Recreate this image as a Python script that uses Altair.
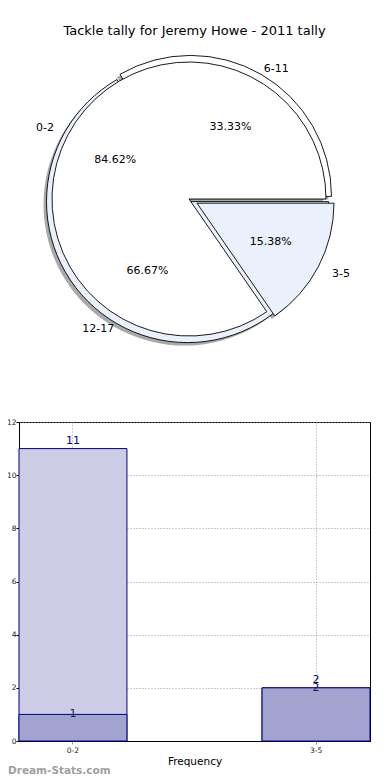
import math
import altair as alt
import pandas as pd

# ---------------- data ----------------
TITLE = "Tackle tally for Jeremy Howe - 2011 tally"
pie1_cats = ["0-2", "3-5"]
pie1_vals = [11, 2]
pie1_pct = ["84.62%", "15.38%"]
pie1_explode = [0, 9]

pie2_cats = ["6-11", "12-17"]
pie2_vals = [1, 2]
pie2_pct = ["33.33%", "66.67%"]
pie2_explode = [3, 3]

bar_cats = ["0-2", "3-5"]
bar_total = [11, 2]
bar_part = [1, 2]
y_ticks = [0, 2, 4, 6, 8, 10, 12]
WATERMARK = "Dream-Stats.com"

# ---------------- style / layout ----------------
FONT = "DejaVu Sans"
W = 351
PIE_H = 363
BAR_H = 319
CX, CY = 170, 155
R = 137
RX, RY = 141, 131          # label placement follows the squashed original
SLICE_FILL = ["#ffffff", "#eaf0fc"]
LIGHT = "#ccccE5"
DARK = "#a3a3d0"
NAVY = "#000080"

THETA_SCALE = alt.Scale(range=[math.pi / 2, math.pi / 2 + 2 * math.pi])


def ell(phi, k):
    return 1.0 / math.sqrt((math.cos(phi) / (k * RX)) ** 2 + (math.sin(phi) / (k * RY)) ** 2)


def pie_frame(cats, vals, pct, explode):
    total = sum(vals)
    rows = []
    cum = 0
    for i, (c, v, p, e) in enumerate(zip(cats, vals, pct, explode)):
        mid = 2 * math.pi * (cum + v / 2) / total
        cum += v
        rows.append({"cat": c, "value": v, "pct": p, "order": len(cats) - i,
                     "fill": SLICE_FILL[i % len(SLICE_FILL)],
                     "cos": math.cos(mid), "mid": mid,
                     "dx": e * math.cos(mid), "dy": -e * math.sin(mid)})
    return pd.DataFrame(rows)


def pie_layers(cats, vals, pct, explode, radius):
    df = pie_frame(cats, vals, pct, explode)
    base = alt.Chart(df)
    theta = alt.Theta("value:Q", stack=True, scale=THETA_SCALE)
    order = alt.Order("order:Q")
    shadows, slices, labels = [], [], []
    for _, row in df.iterrows():
        cond = alt.datum.cat == row["cat"]
        show = alt.condition(cond, alt.value(1), alt.value(0))
        shadows.append(base.mark_arc(radius=radius, fill="#404040").encode(
            theta=theta, order=order,
            x=alt.value(CX + row["dx"] - 3), y=alt.value(CY + row["dy"] + 3),
            opacity=alt.condition(cond, alt.value(0.45), alt.value(0))))
        slices.append(base.mark_arc(radius=radius, stroke="black", strokeWidth=0.9).encode(
            theta=theta, order=order,
            fill=alt.Fill("fill:N", scale=None),
            x=alt.value(CX + row["dx"]), y=alt.value(CY + row["dy"]),
            fillOpacity=show, strokeOpacity=show))
        labels.append(base.mark_text(
            radius=ell(row["mid"], 1.1), font=FONT, fontSize=11, color="black",
            align="left" if row["cos"] > 0 else "right", baseline="middle").encode(
            theta=theta, order=order, text="cat:N",
            x=alt.value(CX + row["dx"]), y=alt.value(CY + row["dy"]),
            opacity=show))
        labels.append(base.mark_text(
            radius=ell(row["mid"], 0.6), font=FONT, fontSize=11, color="black",
            align="center", baseline="middle").encode(
            theta=theta, order=order, text="pct:N",
            x=alt.value(CX + row["dx"]), y=alt.value(CY + row["dy"]),
            opacity=show))
    return shadows, slices, labels


sh1, sl1, lb1 = pie_layers(pie1_cats, pie1_vals, pie1_pct, pie1_explode, R)
sh2, sl2, lb2 = pie_layers(pie2_cats, pie2_vals, pie2_pct, pie2_explode, R + 4)

pie = alt.layer(
    *sh2, *sh1, *sl2, *sl1, *lb1, *lb2,
).resolve_scale(theta="independent").properties(
    width=W, height=PIE_H,
    title=alt.TitleParams(TITLE, font=FONT, fontSize=13, fontWeight="normal",
                          anchor="middle", color="black", offset=6),
)

# ---------------- bars ----------------
bdf = pd.DataFrame({"cat": bar_cats, "total": bar_total, "part": bar_part})
xenc = alt.X("cat:N", sort=bar_cats,
             scale=alt.Scale(paddingInner=0.556, paddingOuter=0),
             axis=alt.Axis(title="Frequency", labelAngle=0, bandPosition=0.5,
                           grid=True, gridDash=[1, 2], gridColor="#999999",
                           labelFont=FONT, labelFontSize=7.5, labelColor="#222",
                           titleFont=FONT, titleFontSize=10.5, titleFontWeight="normal",
                           titleColor="black", titlePadding=3,
                           tickSize=3, tickColor="#999", domainColor="black"))
yscale = alt.Scale(domain=[0, 12], nice=False)
yaxis = alt.Axis(title=None, values=y_ticks, grid=True, gridDash=[1, 2],
                 gridColor="#999999", labelFont=FONT, labelFontSize=7.5,
                 labelColor="#222", tickSize=3, tickColor="black",
                 domainColor="black", labelPadding=0)

bb = alt.Chart(bdf)
light = bb.mark_bar(color=LIGHT, stroke=NAVY, strokeWidth=1).encode(
    x=xenc, y=alt.Y("total:Q", scale=yscale, axis=yaxis))
dark = bb.mark_bar(color=DARK, stroke=NAVY, strokeWidth=1).encode(
    x=alt.X("cat:N", sort=bar_cats), y=alt.Y("part:Q"))
light_t = bb.mark_text(baseline="bottom", dy=-3, font=FONT, fontSize=11, color=NAVY).encode(
    x=alt.X("cat:N", sort=bar_cats), y="total:Q", text="total:Q")
dark_t = bb.mark_text(baseline="middle", font=FONT, fontSize=11, color="#1a1a5a").encode(
    x=alt.X("cat:N", sort=bar_cats), y="part:Q", text="part:Q")
wm = alt.Chart(pd.DataFrame({"t": [WATERMARK]})).mark_text(
    align="left", baseline="middle", font=FONT, fontSize=10.5, fontWeight="bold",
    color="#a0a0a0").encode(text="t:N", x=alt.value(-11), y=alt.value(BAR_H + 30))

bars = alt.layer(light, dark, light_t, dark_t, wm).properties(
    width=W, height=BAR_H,
    view=alt.ViewBackground(stroke="black", strokeOpacity=1, strokeWidth=1))

chart = alt.vconcat(pie, bars, spacing=10).properties(
    padding={"top": 17, "left": -3, "right": 0, "bottom": 0}
).configure_view(strokeOpacity=0)
chart.save("out.html", embed_options={"renderer": "svg", "actions": False})
